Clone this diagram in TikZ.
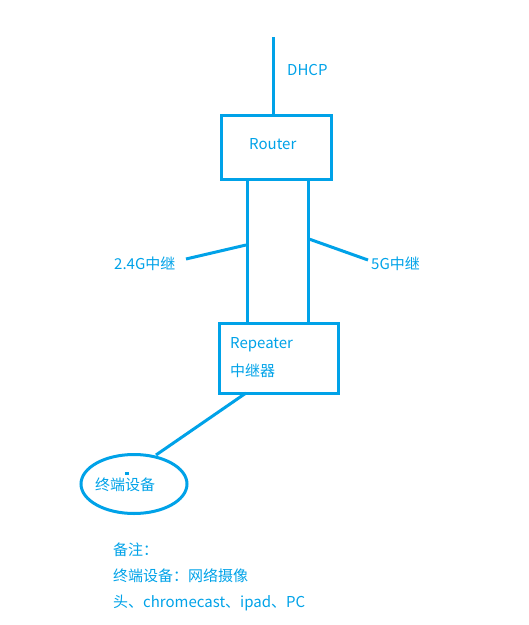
\documentclass[tikz,border=0pt]{standalone}
\usepackage{fontspec}
\setmainfont{Noto Sans CJK SC}
\usetikzlibrary{shapes.geometric}
\definecolor{sky}{HTML}{00A2E8}
\begin{document}
\begin{tikzpicture}[x=1pt,y=-1pt,
  wire/.style={draw=sky,line width=3pt},
  box/.style={draw=sky,line width=3pt,rectangle,inner sep=0pt},
  lbl/.style={text=sky,font=\fontsize{15}{17}\selectfont,inner sep=0pt,anchor=west}]
\useasboundingbox (0,0) rectangle (529,625);
% boxes
\node[box,minimum width=110pt,minimum height=64pt] (router) at (276,147) {};
\node[box,minimum width=119pt,minimum height=70pt] (rep) at (278.5,358) {};
\node[draw=sky,line width=3pt,ellipse,minimum width=106pt,minimum height=59pt,inner sep=0pt] (dev) at (134,484) {};
% texts
\node[lbl] (t-router) at (249,144) {Router};
\node[lbl] (t-dhcp) at (287,70) {DHCP};
\node[lbl] (t-rep) at (230,345) {Repeater};
\node[lbl] (t-rep2) at (230,371) {中继器};
\node[lbl] (t-24) at (114,264) {2.4G中继};
\node[lbl] (t-5) at (371,264) {5G中继};
\node[lbl] (t-dev) at (95,485) {终端设备};
\node[lbl] (n1) at (113,550) {备注：};
\node[lbl] (n2) at (113,576) {终端设备：网络摄像};
\node[lbl] (n3) at (113,603) {头、chromecast、ipad、PC};
% coordinates
\coordinate (top) at (273,37);
\coordinate (l1) at (247,180);
\coordinate (l2) at (247,322);
\coordinate (r1) at (308,180);
\coordinate (r2) at (308,322);
\coordinate (a24) at (246,245);
\coordinate (b24) at (186,259);
\coordinate (a5) at (309,239);
\coordinate (b5) at (368,260);
\coordinate (c1) at (246,393);
\coordinate (c2) at (156,455);
% wires
\draw[wire] (top) -- (router.north -| top);
\draw[wire] (l1) -- (l2);
\draw[wire] (r1) -- (r2);
\draw[wire] (a24) -- (b24);
\draw[wire] (a5) -- (b5);
\draw[wire] (c1) -- (c2);
\fill[sky] (124.5,471.5) rectangle (128.5,474.5);
\end{tikzpicture}
\end{document}
